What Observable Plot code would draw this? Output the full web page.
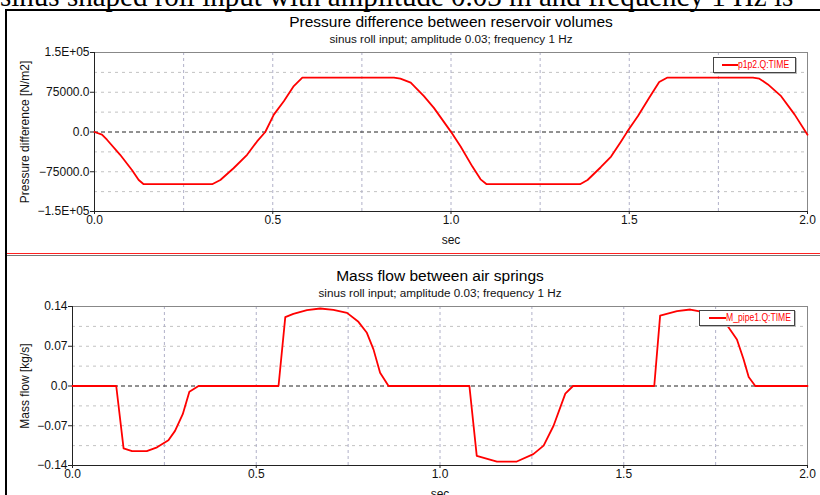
<!DOCTYPE html>
<html>
<head>
<meta charset="utf-8">
<script src="https://cdn.jsdelivr.net/npm/d3@7"></script>
<script src="https://cdn.jsdelivr.net/npm/@observablehq/plot@0.6"></script>
<style>
  body { margin: 0; background: #fff; }
  #wrap { position: relative; width: 820px; height: 495px; overflow: hidden; background: #fff; }
  .serif { position: absolute; left: 0; top: -18px; white-space: nowrap; font-family: "Liberation Serif", "DejaVu Serif", serif; font-size: 29px; line-height: 29px; color: #000; }
  .hline { position: absolute; height: 0; }
  .vline { position: absolute; width: 0; }
  .leg { position: absolute; box-sizing: border-box; border: 1px solid #444; background: #fff; box-shadow: 1px 1px 0 #bbb;
         font-family: "Liberation Sans", Arial, sans-serif; font-size: 10px; color: #ff0000; white-space: nowrap; line-height: 14px; overflow: hidden; }
  .leg .sw { position: absolute; top: 6px; height: 0; border-top: 2px solid #ff0000; }
  .leg .tx { position: absolute; top: 0px; display: inline-block; transform: scaleX(0.86); transform-origin: left center; }
  .panel { position: absolute; left: 0; }
</style>
</head>
<body>
<div id="wrap">
  <div class="serif">sinus shaped roll input with amplitude 0.03 m and frequency 1 Hz is</div>
  <div class="hline" style="left:5px;top:9px;width:815px;border-top:2px solid #000"></div>
  <div class="vline" style="left:5px;top:9px;height:486px;border-left:2px solid #000"></div>
  <div id="p1" class="panel" style="top:0px"></div>
  <div class="hline" style="left:7px;top:253px;width:813px;border-top:1px solid #ff2020"></div>
  <div class="hline" style="left:7px;top:255px;width:813px;border-top:1px solid #777"></div>
  <div id="p2" class="panel" style="top:256px"></div>
  <div class="leg" style="left:713px;top:57px;width:83px;height:16px"><span class="sw" style="left:8px;width:16px"></span><span class="tx" style="left:24px">p1p2.Q:TIME</span></div>
  <div class="leg" style="left:699px;top:310px;width:96px;height:16px"><span class="sw" style="left:9px;width:17px"></span><span class="tx" style="left:26px">M_pipe1.Q:TIME</span></div>
</div>
<script>
// ---------- data ----------
const xTicks = [0, 0.5, 1, 1.5, 2];
const xTickLabels = ["0.0", "0.5", "1.0", "1.5", "2.0"];
const xGrid = [0.25, 0.5, 0.75, 1, 1.25, 1.5, 1.75];

const pressureTime = [0, 0.021, 0.035, 0.072, 0.105, 0.124, 0.138, 0.33, 0.353, 0.39, 0.428, 0.456, 0.479, 0.503, 0.531, 0.559, 0.583, 0.84, 0.858, 0.887, 0.924, 0.952, 0.999, 1.027, 1.06, 1.083, 1.1, 1.362, 1.383, 1.42, 1.449, 1.477, 1.495, 1.524, 1.556, 1.584, 1.606, 1.847, 1.865, 1.889, 1.926, 1.964, 2.0];
const pressureValue = [0, -5000, -14600, -43000, -71600, -90600, -98500, -98500, -90600, -68400, -43000, -17800, 0, 32800, 58000, 86600, 102500, 102500, 100600, 93000, 67600, 45500, 1200, -27300, -65300, -89300, -98500, -98500, -90600, -66500, -46300, -17800, 1200, 29600, 64500, 94200, 102500, 102500, 100600, 89800, 67600, 32800, -5100];
const pressureTicks = [150000, 75000, 0, -75000, -150000];
const pressureTickLabels = ["1.5E+05", "75000.0", "0.0", "\u221275000.0", "\u22121.5E+05"];
const pressureGrid = [112500, 75000, 37500, -37500, -75000, -112500];

const massTime = [0, 0.119, 0.139, 0.162, 0.202, 0.23, 0.261, 0.279, 0.30, 0.318, 0.343, 0.5606, 0.579, 0.601, 0.638, 0.674, 0.71, 0.747, 0.778, 0.801, 0.819, 0.837, 0.86, 1.08, 1.10, 1.155, 1.209, 1.254, 1.282, 1.309, 1.341, 1.362, 1.583, 1.599, 1.645, 1.681, 1.703, 1.73, 1.76, 1.785, 1.808, 1.826, 1.84, 1.858, 2.0];
const massValue = [0, 0, -0.110, -0.1148, -0.1148, -0.108, -0.0955, -0.079, -0.0497, -0.010, 0, 0, 0.1212, 0.127, 0.1335, 0.1365, 0.134, 0.1288, 0.113, 0.0937, 0.0645, 0.0234, 0, 0, -0.123, -0.133, -0.133, -0.120, -0.105, -0.070, -0.0135, 0, 0, 0.124, 0.1317, 0.1347, 0.132, 0.127, 0.117, 0.1036, 0.082, 0.047, 0.0158, 0, 0];
const massTicks = [0.14, 0.07, 0, -0.07, -0.14];
const massTickLabels = ["0.14", "0.07", "0.0", "\u22120.07", "\u22120.14"];
const massGrid = [0.105, 0.07, 0.035, -0.035, -0.07, -0.105];

const subtitleText = "sinus roll input; amplitude 0.03; frequency 1 Hz";

// ---------- drawing ----------
function panel(o) {
  const data = o.times.map((t, i) => ({t, v: o.values[i]}));
  const yFmt = new Map(o.yTicks.map((d, i) => [d, o.yLabels[i]]));
  const xFmt = new Map(xTicks.map((d, i) => [d, xTickLabels[i]]));
  return Plot.plot({
    width: 820,
    height: o.height,
    marginLeft: o.ml,
    marginRight: 13,
    marginTop: o.mt,
    marginBottom: o.mb,
    style: {fontFamily: "'Liberation Sans', Arial, sans-serif", fontSize: "12px", color: "#111", background: "transparent", overflow: "visible"},
    x: {type: "linear", domain: [0, 2], axis: null},
    y: {type: "linear", domain: o.yDomain, axis: null},
    marks: [
      Plot.ruleY(o.yGrid, {stroke: "#c2c2c2", strokeDasharray: "3,4"}),
      Plot.ruleX(xGrid, {stroke: "#b0b0c8", strokeDasharray: "3,3", insetBottom: -3}),
      Plot.ruleY([0], {stroke: "#222", strokeDasharray: "4,3"}),
      Plot.ruleY([o.yDomain[1]], {stroke: "#888"}),
      Plot.ruleX([2], {stroke: "#888"}),
      Plot.ruleX([0], {stroke: "#222"}),
      Plot.ruleY([o.yDomain[0]], {stroke: "#222"}),
      Plot.axisY({ticks: o.yTicks, tickFormat: d => yFmt.get(d), tickSize: 4, tickPadding: 1, fontSize: 12, label: null, stroke: "#222"}),
      Plot.axisX({ticks: xTicks, tickFormat: d => xFmt.get(d), tickSize: 3, tickPadding: 1, fontSize: 12, label: null, stroke: "#222"}),
      Plot.line(data, {x: "t", y: "v", stroke: "#ff0000", strokeWidth: 1.8}),
      Plot.text([o.title], {frameAnchor: "top", dy: -30, fontSize: 15.5, fill: "#000", textAnchor: "middle", lineAnchor: "middle"}),
      Plot.text([subtitleText], {frameAnchor: "top", dy: -13, fontSize: 11.7, fill: "#111", textAnchor: "middle", lineAnchor: "middle"}),
      Plot.text([o.ylabel], {frameAnchor: "left", dx: o.ylabelDx, rotate: -90, fontSize: 12, fill: "#111", textAnchor: "middle", lineAnchor: "middle"}),
      Plot.text(["sec"], {frameAnchor: "bottom", dy: 29, fontSize: 12, fill: "#111", textAnchor: "middle", lineAnchor: "middle"})
    ]
  });
}

document.getElementById("p1").append(panel({
  times: pressureTime, values: pressureValue,
  yDomain: [-150000, 150000], yTicks: pressureTicks, yLabels: pressureTickLabels, yGrid: pressureGrid,
  title: "Pressure difference between reservoir volumes",
  ylabel: "Pressure difference [N/m2]", ylabelDx: -69,
  height: 250, ml: 94, mt: 52, mb: 39
}));

document.getElementById("p2").append(panel({
  times: massTime, values: massValue,
  yDomain: [-0.14, 0.14], yTicks: massTicks, yLabels: massTickLabels, yGrid: massGrid,
  title: "Mass flow between air springs",
  ylabel: "Mass flow [kg/s]", ylabelDx: -47,
  height: 239, ml: 72, mt: 50, mb: 30
}));
</script>
</body>
</html>
